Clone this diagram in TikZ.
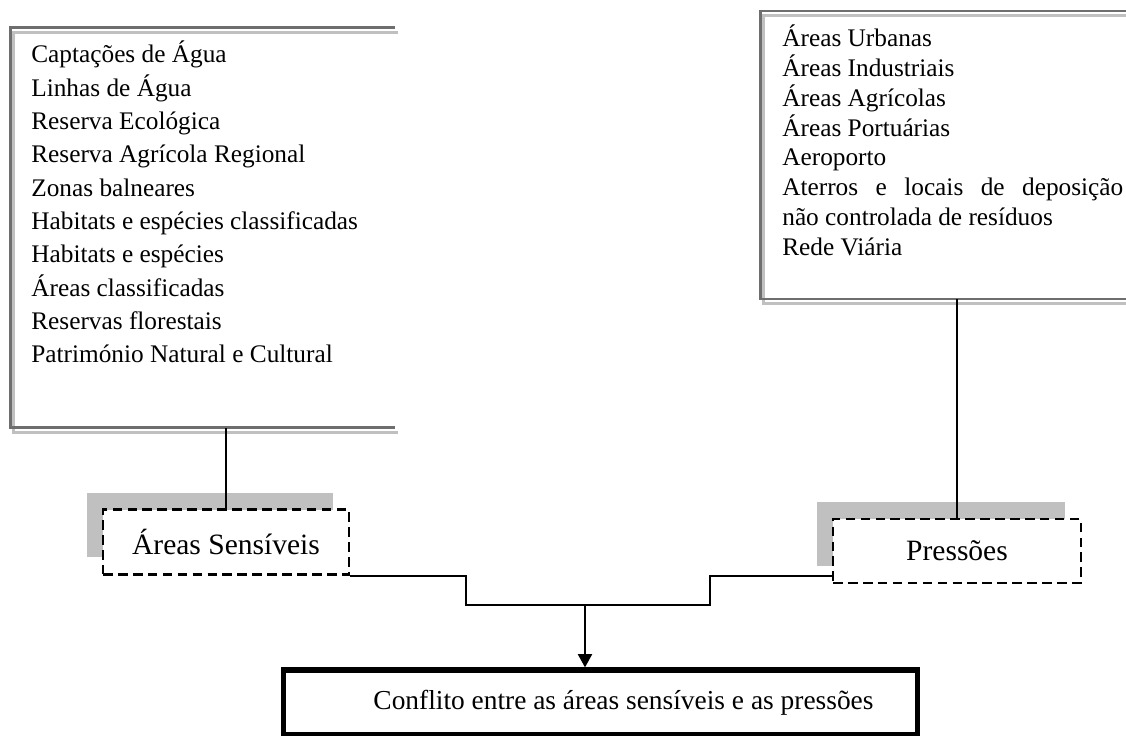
\documentclass[tikz,border=0pt]{standalone}
\usepackage{fontspec}
\setmainfont{Liberation Serif}
\usetikzlibrary{arrows.meta,shadows}
\definecolor{framegray}{HTML}{6E6E6E}
\definecolor{shadegray}{HTML}{C0C0C0}

\begin{document}
\begin{tikzpicture}[x=0.02cm, y=-0.02cm,
    listitem/.style={anchor=base west, inner sep=0pt, font=\fontsize{14.4}{17}\selectfont},
    dashbox/.style={draw, line width=1.6pt, dash pattern=on 5.5pt off 3pt, fill=white,
        minimum width=4.92cm, minimum height=1.3cm, font=\fontsize{16.8}{20}\selectfont,
        drop shadow={shadow xshift=-0.32cm, shadow yshift=0.34cm, fill=shadegray, opacity=1}},
    sh/.style={xshift=0.06cm, yshift=-0.09cm},
    conn/.style={line width=1pt}]
    \useasboundingbox (0,0) rectangle (1126,736);
    % frames of the two lists
    \node[minimum width=7.69cm, minimum height=7.99cm, inner sep=0pt] (sensbox) at (202.75,227.75) {};
    \node[minimum width=7.59cm, minimum height=5.74cm, inner sep=0pt] (pressbox) at (950.25,155) {};
    \draw[shadegray, line width=1.7pt] ([sh]sensbox.north east) -| ([sh]sensbox.south west) -- ([sh]sensbox.south east);
    \draw[framegray, line width=1.5pt] (sensbox.north east) -| (sensbox.south west) -- (sensbox.south east);
    \draw[shadegray, line width=1.7pt] ([sh]pressbox.north west) rectangle ([sh]pressbox.south east);
    \draw[framegray, line width=1.5pt] (pressbox.north west) rectangle (pressbox.south east);
    % list entries
    \foreach \t [count=\i] in {Captações de Água, Linhas de Água, Reserva Ecológica,
        Reserva Agrícola Regional, Zonas balneares, Habitats e espécies classificadas,
        Habitats e espécies, Áreas classificadas, Reservas florestais,
        Património Natural e Cultural}
        \node[listitem] (area\i) at (31,{63+33.3*(\i-1)}) {\t};
    \foreach \t [count=\i] in {Áreas Urbanas, Áreas Industriais, Áreas Agrícolas,
        Áreas Portuárias, Aeroporto, {\makebox[6.82cm][s]{Aterros e locais de deposição}},
        não controlada de resíduos, Rede Viária}
        \node[listitem] (pres\i) at (782,{46.7+29.8*(\i-1)}) {\t};
    % boxes
    \node[dashbox] (sens) at (226,542) {Áreas Sensíveis};
    \node[dashbox, minimum width=4.96cm, minimum height=1.28cm] (press) at (957,551) {Pressões};
    \node[draw, line width=3pt, minimum width=12.68cm, minimum height=1.3cm,
        font=\fontsize{15.6}{19}\selectfont] (conflito) at (600.5,702.5)
        {\hspace*{0.92cm}Conflito entre as áreas sensíveis e as pressões};
    % connectors
    \draw[conn] (sens.north) -- (sens.north |- sensbox.south);
    \draw[conn] (press.north) -- (press.north |- pressbox.south);
    \coordinate (bendL) at (466,605);
    \coordinate (bendR) at (710,605);
    \coordinate (join) at (585,605);
    \draw[conn] (sens.south east) -| (bendL) -- (bendR) |- (press.west |- sens.south east);
    \draw[conn, -{Triangle[length=7.5pt,width=8pt]}] (join) -- (join |- conflito.north);
\end{tikzpicture}
\end{document}
